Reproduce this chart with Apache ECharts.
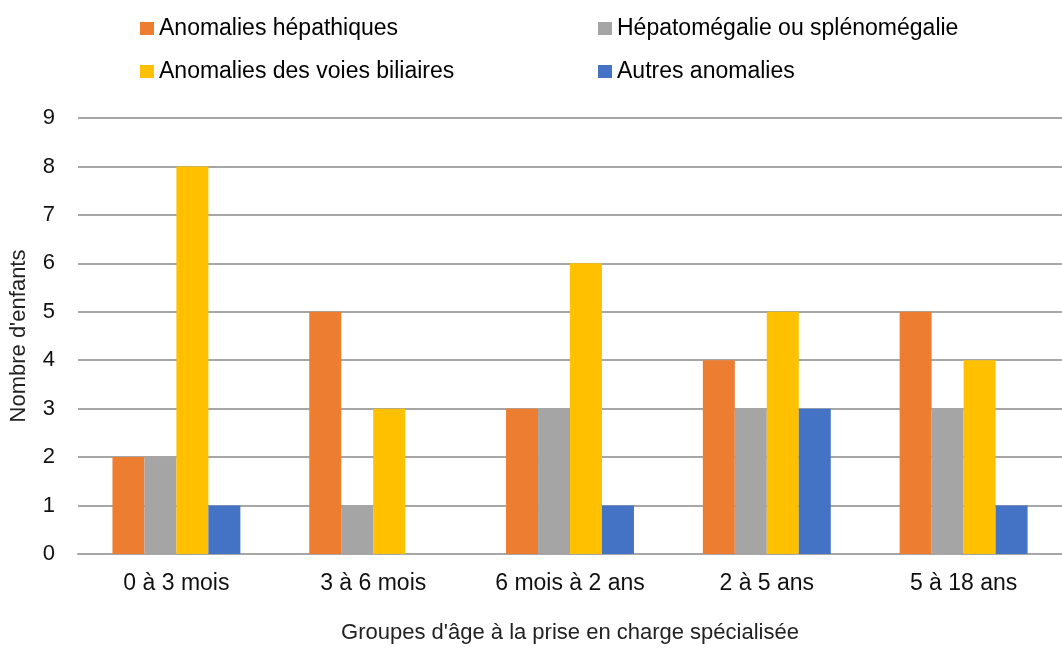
<html>
<head>
    <meta http-equiv="Content-Type" content="text/html; charset=utf-8"/>
    <title>Anomalies par groupe d'âge</title>
    <style type="text/css">
        body, #chart {
            border: 0px;
            margin: 0px;
            padding: 0px;
            width: 1062px;
            height: 648px;
            background: #ffffff;
        }
    </style>
    <script type="text/javascript" src="https://cdn.jsdelivr.net/npm/echarts@6/dist/echarts.min.js"></script>
    <script type="text/javascript">
        var categories = ['0 à 3 mois', '3 à 6 mois', '6 mois à 2 ans', '2 à 5 ans', '5 à 18 ans'];
        var hepatiques = [2, 5, 3, 4, 5];
        var hepatomegalie = [2, 1, 3, 3, 3];
        var biliaires = [8, 3, 6, 5, 4];
        var autres = [1, 0, 1, 3, 1];
        var seriesNames = ['Anomalies hépathiques', 'Hépatomégalie ou splénomégalie',
            'Anomalies des voies biliaires', 'Autres anomalies'];
        var colors = ['#ED7D31', '#A5A5A5', '#FFC000', '#4472C4'];

        function init() {
            var font = '"Liberation Sans", Arial, sans-serif';
            var legendText = {fontSize: 23, color: '#000', fontFamily: font};
            var myChart = echarts.init(document.getElementById('chart'));
            var values = [hepatiques, hepatomegalie, biliaires, autres];
            var series = [];
            for (var i = 0; i < values.length; i++) {
                series.push({
                    name: seriesNames[i],
                    type: 'bar',
                    data: values[i],
                    barGap: '0%',
                    barCategoryGap: '35%',
                    itemStyle: {color: colors[i]}
                });
            }
            var option = {
                animation: false,
                color: colors,
                legend: [
                    {
                        orient: 'vertical',
                        left: 135, top: 12,
                        itemWidth: 14, itemHeight: 13, itemGap: 20,
                        icon: 'rect',
                        textStyle: legendText,
                        data: [seriesNames[0], seriesNames[2]]
                    },
                    {
                        orient: 'vertical',
                        left: 593, top: 12,
                        itemWidth: 14, itemHeight: 13, itemGap: 20,
                        icon: 'rect',
                        textStyle: legendText,
                        data: [seriesNames[1], seriesNames[3]]
                    }
                ],
                grid: {
                    left: 78,
                    right: 0,
                    top: 118,
                    bottom: 94,
                    outerBoundsMode: 'none',
                    containLabel: false
                },
                xAxis: {
                    type: 'category',
                    data: categories,
                    name: "Groupes d'âge à la prise en charge spécialisée",
                    nameLocation: 'middle',
                    nameGap: 68,
                    nameTextStyle: {fontSize: 22, color: '#222', fontFamily: font},
                    axisLine: {lineStyle: {color: '#A6A6A6', width: 2}},
                    axisTick: {show: false},
                    axisLabel: {fontSize: 23, color: '#111', margin: 18, fontFamily: font}
                },
                yAxis: {
                    type: 'value',
                    min: 0,
                    max: 9,
                    interval: 1,
                    name: "Nombre d'enfants",
                    nameLocation: 'middle',
                    nameGap: 48,
                    nameTextStyle: {fontSize: 22, color: '#222', fontFamily: font},
                    axisLine: {show: false},
                    axisTick: {show: false},
                    axisLabel: {fontSize: 22, color: '#111', margin: 23, fontFamily: font},
                    splitLine: {lineStyle: {color: '#A6A6A6', width: 2}}
                },
                series: series
            };
            myChart.setOption(option);
        }
    </script>
</head>
<body onLoad="init()">
<div id="chart"></div>
</body>
</html>
